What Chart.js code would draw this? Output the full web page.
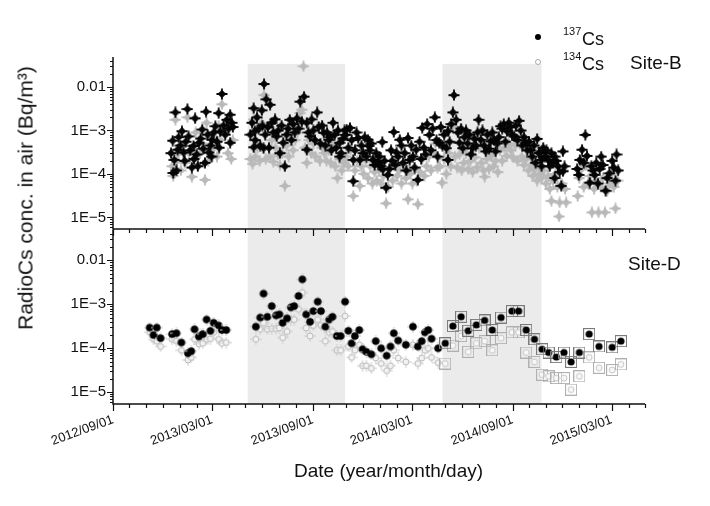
<!DOCTYPE html>
<html>
<head>
<meta charset="utf-8">
<script src="https://cdn.jsdelivr.net/npm/chart.js@4.4.0/dist/chart.umd.min.js"></script>
<style>
  body { margin: 0; background: #fff; }
  #wrap { position: relative; width: 710px; height: 506px; background: #fff; overflow: hidden; }
  canvas { position: absolute; left: 0; top: 0; }
  .lbl { position: absolute; font-family: "Liberation Sans", Arial, sans-serif; color: #111; white-space: nowrap; }
</style>
</head>
<body>
<div id="wrap">
  <canvas id="chartD" width="710" height="506"></canvas>
  <canvas id="chartB" width="710" height="240"></canvas>

  <div style="position:absolute;left:535px;top:34px;width:6px;height:6px;border-radius:50%;background:#000"></div>
  <span class="lbl" style="left:563px;top:26px;font-size:11px;line-height:11px">137</span>
  <span class="lbl" style="left:582px;top:30px;font-size:18px;line-height:18px">Cs</span>
  <div style="position:absolute;left:535px;top:59px;width:4px;height:4px;border-radius:50%;border:1px solid #aaa"></div>
  <span class="lbl" style="left:563px;top:51px;font-size:11px;line-height:11px">134</span>
  <span class="lbl" style="left:582px;top:55px;font-size:18px;line-height:18px">Cs</span>

  <span class="lbl" style="left:630px;top:53px;font-size:19px;line-height:19px">Site-B</span>
  <span class="lbl" style="left:628px;top:254px;font-size:19px;line-height:19px">Site-D</span>

  <span class="lbl" style="left:25px;top:198px;font-size:21px;line-height:21px;transform:translate(-50%,-50%) rotate(-90deg)">RadioCs conc. in air (Bq/m³)</span>
  <span class="lbl" style="left:294px;top:461px;font-size:19px;line-height:19px">Date (year/month/day)</span>
</div>

<script>
// ---- data ----
const xTickLabels = ['2012/09/01', '2013/03/01', '2013/09/01', '2014/03/01', '2014/09/01', '2015/03/01'];
const yTickValues = [1e-5, 1e-4, 1e-3, 1e-2];
const yTickLabels = ['1E\u22125', '1E\u22124', '1E\u22123', '0.01'];

// grey bands (sampling seasons)
const shadeFrom = ['2013-05-05', '2014-04-26'];
const shadeTo = ['2013-10-30', '2014-10-24'];

// Site-B, 137Cs
const siteB137 = [
  ['2012-12-16', 3.0e-4], ['2012-12-19', 5.8e-4], ['2012-12-20', 1.05e-4], ['2012-12-22', 2.1e-4],
  ['2012-12-24', 2.6e-3], ['2012-12-26', 1.2e-4], ['2012-12-28', 3.6e-4], ['2012-12-30', 7.0e-4],
  ['2013-01-02', 4.5e-4], ['2013-01-05', 9.6e-4], ['2013-01-08', 3.1e-4], ['2013-01-10', 2.0e-4],
  ['2013-01-12', 5.5e-4], ['2013-01-15', 3.1e-3], ['2013-01-17', 7.3e-4], ['2013-01-20', 3.5e-4],
  ['2013-01-23', 1.4e-4], ['2013-01-26', 4.4e-4], ['2013-01-27', 2.2e-4], ['2013-01-29', 1.9e-3],
  ['2013-02-01', 2.8e-4], ['2013-02-03', 1.5e-4], ['2013-02-05', 5.2e-4], ['2013-02-08', 6.5e-4],
  ['2013-02-11', 1.05e-3], ['2013-02-13', 3.8e-4], ['2013-02-16', 1.8e-4], ['2013-02-18', 2.7e-3],
  ['2013-02-21', 8.0e-4], ['2013-02-23', 3.1e-4], ['2013-02-26', 4.5e-4], ['2013-02-28', 2.5e-4],
  ['2013-03-01', 6.1e-4], ['2013-03-04', 9.0e-4], ['2013-03-07', 1.25e-3], ['2013-03-10', 5.5e-4],
  ['2013-03-13', 2.5e-3], ['2013-03-14', 4.0e-4], ['2013-03-16', 9.5e-4], ['2013-03-19', 6.9e-3],
  ['2013-03-22', 1.3e-3], ['2013-03-25', 8.0e-4], ['2013-03-28', 1.76e-3], ['2013-03-31', 1.1e-3],
  ['2013-04-03', 2.3e-3], ['2013-04-03', 5.2e-4], ['2013-04-06', 1.5e-3], ['2013-04-08', 1.2e-3],
  ['2013-05-10', 8.0e-4], ['2013-05-13', 1.5e-3], ['2013-05-16', 3.25e-3], ['2013-05-16', 4.1e-4],
  ['2013-05-18', 9.6e-4], ['2013-05-19', 6.0e-4], ['2013-05-22', 2.0e-3], ['2013-05-25', 1.1e-3],
  ['2013-05-28', 4.5e-4], ['2013-05-31', 2.9e-3], ['2013-06-01', 1.3e-3], ['2013-06-03', 3.9e-4],
  ['2013-06-04', 1.17e-2], ['2013-06-06', 8.0e-4], ['2013-06-08', 5.2e-3], ['2013-06-11', 1.2e-3],
  ['2013-06-13', 4.0e-4], ['2013-06-15', 3.9e-3], ['2013-06-18', 1.5e-3], ['2013-06-21', 9.0e-4],
  ['2013-06-24', 1.8e-3], ['2013-06-27', 7.3e-4], ['2013-06-30', 1.0e-3], ['2013-07-03', 3.0e-4],
  ['2013-07-06', 1.3e-3], ['2013-07-09', 5.2e-4], ['2013-07-12', 1.5e-4], ['2013-07-15', 8.0e-4],
  ['2013-07-18', 1.1e-3], ['2013-07-21', 1.76e-3], ['2013-07-24', 6.0e-4], ['2013-07-27', 1.4e-3],
  ['2013-07-30', 9.0e-4], ['2013-08-03', 1.9e-3], ['2013-08-06', 1.1e-3], ['2013-08-09', 4.6e-3],
  ['2013-08-12', 1.6e-3], ['2013-08-16', 6.0e-3], ['2013-08-21', 1.5e-3], ['2013-08-21', 3.6e-4],
  ['2013-08-24', 9.0e-4], ['2013-08-27', 7.3e-4], ['2013-08-30', 1.8e-3], ['2013-09-02', 1.0e-3],
  ['2013-09-05', 6.0e-4], ['2013-09-09', 2.6e-3], ['2013-09-12', 1.2e-3], ['2013-09-15', 5.0e-4],
  ['2013-09-18', 1.3e-3], ['2013-09-21', 8.8e-4], ['2013-09-24', 4.5e-4], ['2013-09-27', 9.0e-4],
  ['2013-09-30', 6.1e-4], ['2013-10-03', 7.0e-4], ['2013-10-05', 3.5e-4], ['2013-10-08', 1.5e-3],
  ['2013-10-11', 8.0e-4], ['2013-10-14', 4.0e-4], ['2013-10-17', 1.0e-3], ['2013-10-20', 5.2e-4],
  ['2013-10-20', 2.5e-4], ['2013-10-23', 3.0e-4], ['2013-10-26', 6.5e-4], ['2013-10-29', 1.0e-3],
  ['2013-10-31', 7.9e-4], ['2013-11-02', 1.05e-3], ['2013-11-05', 4.0e-4], ['2013-11-08', 1.15e-3],
  ['2013-11-11', 6.0e-4], ['2013-11-14', 2.1e-4], ['2013-11-14', 6.8e-5], ['2013-11-17', 3.5e-4],
  ['2013-11-20', 9.0e-4], ['2013-11-23', 6.7e-4], ['2013-11-26', 2.1e-4], ['2013-11-29', 4.5e-4],
  ['2013-12-02', 3.0e-4], ['2013-12-05', 7.0e-4], ['2013-12-08', 2.5e-4], ['2013-12-11', 6.1e-4],
  ['2013-12-12', 4.4e-4], ['2013-12-14', 3.5e-4], ['2013-12-17', 5.0e-4], ['2013-12-20', 2.1e-4],
  ['2013-12-23', 1.6e-4], ['2013-12-26', 3.0e-4], ['2013-12-29', 1.8e-4], ['2014-01-01', 2.5e-4],
  ['2014-01-03', 1.5e-4], ['2014-01-06', 5.4e-4], ['2014-01-07', 1.27e-4], ['2014-01-10', 2.0e-4],
  ['2014-01-13', 4.8e-5], ['2014-01-16', 9.5e-5], ['2014-01-19', 1.3e-4], ['2014-01-22', 3.5e-4],
  ['2014-01-24', 2.0e-4], ['2014-01-27', 9.2e-4], ['2014-01-30', 1.6e-4], ['2014-02-01', 3.1e-4],
  ['2014-02-04', 2.5e-4], ['2014-02-07', 6.1e-4], ['2014-02-10', 4.5e-4], ['2014-02-13', 1.8e-4],
  ['2014-02-16', 3.0e-4], ['2014-02-19', 1.2e-4], ['2014-02-22', 6.7e-4], ['2014-02-25', 2.1e-4],
  ['2014-02-28', 4.5e-4], ['2014-03-03', 2.5e-4], ['2014-03-06', 1.4e-4], ['2014-03-09', 3.6e-4],
  ['2014-03-12', 7.3e-5], ['2014-03-15', 5.5e-4], ['2014-03-18', 2.2e-4], ['2014-03-20', 1.15e-3],
  ['2014-03-23', 4.0e-4], ['2014-03-26', 2.8e-4], ['2014-03-29', 1.4e-3], ['2014-04-02', 7.9e-4],
  ['2014-04-05', 3.5e-4], ['2014-04-08', 1.1e-3], ['2014-04-12', 2.0e-3], ['2014-04-15', 6.0e-4],
  ['2014-04-17', 2.5e-4], ['2014-04-20', 5.2e-4], ['2014-04-23', 1.2e-3], ['2014-04-26', 4.5e-4],
  ['2014-04-29', 8.0e-4], ['2014-05-03', 3.9e-4], ['2014-05-06', 9.6e-4], ['2014-05-06', 2.1e-4],
  ['2014-05-09', 5.5e-4], ['2014-05-12', 1.4e-3], ['2014-05-15', 2.6e-3], ['2014-05-17', 6.5e-3],
  ['2014-05-21', 1.76e-3], ['2014-05-24', 9.0e-4], ['2014-05-27', 5.2e-4], ['2014-05-30', 1.1e-3],
  ['2014-06-02', 3.9e-4], ['2014-06-05', 7.0e-4], ['2014-06-08', 1.0e-3], ['2014-06-11', 5.0e-4],
  ['2014-06-14', 8.0e-4], ['2014-06-17', 2.8e-4], ['2014-06-20', 3.9e-4], ['2014-06-23', 6.5e-4],
  ['2014-06-26', 4.5e-4], ['2014-06-29', 9.0e-4], ['2014-07-01', 1.76e-3], ['2014-07-05', 6.1e-4],
  ['2014-07-08', 1.0e-3], ['2014-07-11', 4.5e-4], ['2014-07-14', 3.3e-4], ['2014-07-17', 8.0e-4],
  ['2014-07-20', 3.8e-4], ['2014-07-23', 5.6e-4], ['2014-07-26', 9.0e-4], ['2014-07-29', 6.0e-4],
  ['2014-08-01', 3.3e-4], ['2014-08-04', 5.0e-4], ['2014-08-07', 7.0e-4], ['2014-08-10', 1.25e-3],
  ['2014-08-13', 1.1e-3], ['2014-08-16', 1.4e-3], ['2014-08-19', 5.5e-4], ['2014-08-22', 9.6e-4],
  ['2014-08-25', 1.5e-3], ['2014-08-28', 1.2e-3], ['2014-08-31', 8.0e-4], ['2014-09-04', 7.3e-4],
  ['2014-09-07', 1.3e-3], ['2014-09-10', 6.0e-4], ['2014-09-13', 1.67e-3], ['2014-09-16', 1.0e-3],
  ['2014-09-19', 4.5e-4], ['2014-09-22', 7.0e-4], ['2014-09-25', 5.2e-4], ['2014-09-28', 3.5e-4],
  ['2014-10-01', 5.5e-4], ['2014-10-04', 3.5e-4], ['2014-10-07', 2.5e-4], ['2014-10-10', 4.5e-4],
  ['2014-10-13', 1.8e-4], ['2014-10-16', 6.4e-4], ['2014-10-19', 3.0e-4], ['2014-10-21', 3.1e-4],
  ['2014-10-24', 2.1e-4], ['2014-10-24', 1.5e-4], ['2014-10-27', 4.0e-4], ['2014-10-30', 2.5e-4],
  ['2014-11-02', 3.5e-4], ['2014-11-05', 2.1e-4], ['2014-11-08', 1.5e-4], ['2014-11-11', 3.0e-4],
  ['2014-11-14', 1.8e-4], ['2014-11-17', 2.5e-4], ['2014-11-17', 8.0e-5], ['2014-11-20', 2.0e-4],
  ['2014-11-23', 1.5e-4], ['2014-11-26', 1.1e-4], ['2014-11-29', 5.3e-5], ['2014-12-02', 3.3e-4],
  ['2014-12-02', 1.15e-4], ['2014-12-05', 1.5e-4], ['2014-12-28', 1.3e-4], ['2014-12-31', 9.5e-5],
  ['2015-01-02', 2.1e-4], ['2015-01-06', 3.6e-4], ['2015-01-09', 1.8e-4], ['2015-01-12', 7.9e-4],
  ['2015-01-15', 2.6e-4], ['2015-01-20', 6.3e-5], ['2015-01-23', 1.5e-4], ['2015-01-26', 1.2e-4],
  ['2015-01-29', 9.5e-5], ['2015-02-01', 1.8e-4], ['2015-02-04', 6.0e-5], ['2015-02-07', 1.3e-4],
  ['2015-02-10', 2.5e-4], ['2015-02-13', 1.6e-4], ['2015-02-18', 4.1e-5], ['2015-02-21', 8.0e-5],
  ['2015-02-25', 1.03e-4], ['2015-03-02', 2.0e-4], ['2015-03-05', 1.4e-4], ['2015-03-08', 7.0e-5],
  ['2015-03-10', 2.8e-4], ['2015-03-13', 1.2e-4]
];

// Site-B, 134Cs
const siteB134 = [
  ['2012-12-18', 1.5e-4], ['2012-12-20', 9.0e-5], ['2012-12-24', 1.76e-3], ['2012-12-27', 2.0e-4],
  ['2012-12-30', 3.0e-4], ['2013-01-03', 1.2e-4], ['2013-01-06', 4.5e-4], ['2013-01-10', 1.8e-4],
  ['2013-01-15', 2.0e-3], ['2013-01-18', 3.0e-4], ['2013-01-23', 8.6e-5], ['2013-01-26', 2.2e-4],
  ['2013-01-30', 9.0e-4], ['2013-02-03', 1.6e-4], ['2013-02-07', 3.0e-4], ['2013-02-11', 5.0e-4],
  ['2013-02-16', 7.3e-5], ['2013-02-19', 1.5e-3], ['2013-02-22', 2.0e-4], ['2013-02-26', 3.5e-4],
  ['2013-03-02', 4.0e-4], ['2013-03-06', 7.0e-4], ['2013-03-10', 2.5e-4], ['2013-03-13', 1.3e-3],
  ['2013-03-16', 6.0e-4], ['2013-03-19', 4.0e-3], ['2013-03-23', 9.0e-4], ['2013-03-27', 1.1e-3],
  ['2013-03-30', 3.0e-4], ['2013-04-02', 1.2e-3], ['2013-04-05', 2.2e-4], ['2013-04-08', 6.0e-4],
  ['2013-05-10', 2.2e-4], ['2013-05-14', 1.7e-4], ['2013-05-16', 1.8e-3], ['2013-05-19', 2.5e-4],
  ['2013-05-23', 4.0e-4], ['2013-05-27', 2.0e-4], ['2013-05-31', 1.5e-3], ['2013-06-04', 6.5e-3],
  ['2013-06-07', 2.2e-4], ['2013-06-10', 1.2e-3], ['2013-06-14', 2.5e-4], ['2013-06-18', 6.0e-4],
  ['2013-06-21', 1.9e-4], ['2013-06-25', 4.0e-4], ['2013-06-29', 2.8e-4], ['2013-07-03', 1.6e-4],
  ['2013-07-07', 3.0e-4], ['2013-07-12', 5.3e-5], ['2013-07-15', 4.5e-4], ['2013-07-19', 2.5e-4],
  ['2013-07-23', 8.0e-4], ['2013-07-27', 3.5e-4], ['2013-07-31', 6.0e-4], ['2013-08-04', 9.0e-4],
  ['2013-08-08', 2.5e-3], ['2013-08-12', 3.0e-3], ['2013-08-15', 3.0e-2], ['2013-08-18', 4.0e-4],
  ['2013-08-21', 1.8e-4], ['2013-08-25', 6.0e-4], ['2013-08-29', 3.0e-4], ['2013-09-02', 5.0e-4],
  ['2013-09-06', 2.5e-4], ['2013-09-10', 1.2e-3], ['2013-09-14', 2.0e-4], ['2013-09-18', 4.0e-4],
  ['2013-09-22', 3.0e-4], ['2013-09-26', 2.0e-4], ['2013-09-30', 3.5e-4], ['2013-10-04', 1.8e-4],
  ['2013-10-08', 5.0e-4], ['2013-10-12', 1.5e-4], ['2013-10-16', 8.0e-5], ['2013-10-20', 2.2e-4],
  ['2013-10-24', 1.2e-4], ['2013-10-28', 1.8e-4], ['2013-11-01', 2.5e-4], ['2013-11-05', 1.5e-4],
  ['2013-11-09', 3.5e-4], ['2013-11-14', 3.1e-5], ['2013-11-17', 1.2e-4], ['2013-11-21', 2.0e-4],
  ['2013-11-26', 5.3e-5], ['2013-11-29', 1.5e-4], ['2013-12-03', 1.0e-4], ['2013-12-07', 2.0e-4],
  ['2013-12-11', 8.0e-5], ['2013-12-15', 1.5e-4], ['2013-12-19', 6.0e-5], ['2013-12-23', 1.1e-4],
  ['2013-12-27', 7.0e-5], ['2013-12-31', 1.2e-4], ['2014-01-04', 6.0e-5], ['2014-01-08', 9.0e-5],
  ['2014-01-13', 2.1e-5], ['2014-01-17', 5.0e-5], ['2014-01-21', 1.4e-4], ['2014-01-25', 7.0e-5],
  ['2014-01-29', 1.8e-4], ['2014-02-02', 9.0e-5], ['2014-02-06', 1.2e-4], ['2014-02-10', 6.0e-5],
  ['2014-02-14', 1.5e-4], ['2014-02-18', 8.0e-5], ['2014-02-22', 2.6e-5], ['2014-02-26', 1.0e-4],
  ['2014-03-02', 6.0e-5], ['2014-03-06', 1.3e-4], ['2014-03-10', 7.0e-5], ['2014-03-12', 2.0e-5],
  ['2014-03-16', 1.1e-4], ['2014-03-20', 2.2e-4], ['2014-03-24', 9.0e-5], ['2014-03-28', 1.5e-4],
  ['2014-04-01', 2.5e-4], ['2014-04-05', 1.2e-4], ['2014-04-09', 3.0e-4], ['2014-04-13', 5.0e-4],
  ['2014-04-17', 1.4e-4], ['2014-04-21', 1.5e-4], ['2014-04-25', 6.3e-5], ['2014-04-29', 2.2e-4],
  ['2014-05-03', 1.0e-4], ['2014-05-07', 3.0e-4], ['2014-05-11', 1.5e-4], ['2014-05-15', 1.2e-3],
  ['2014-05-19', 2.5e-4], ['2014-05-23', 1.4e-4], ['2014-05-27', 2.8e-4], ['2014-05-31', 1.2e-4],
  ['2014-06-04', 1.8e-4], ['2014-06-08', 3.0e-4], ['2014-06-12', 1.3e-4], ['2014-06-16', 2.0e-4],
  ['2014-06-20', 1.1e-4], ['2014-06-24', 2.4e-4], ['2014-06-28', 1.4e-4], ['2014-07-02', 4.0e-4],
  ['2014-07-06', 1.8e-4], ['2014-07-10', 1.2e-4], ['2014-07-12', 8.6e-5], ['2014-07-16', 2.2e-4],
  ['2014-07-20', 1.3e-4], ['2014-07-24', 2.6e-4], ['2014-07-28', 1.5e-4], ['2014-08-01', 2.0e-4],
  ['2014-08-05', 1.1e-4], ['2014-08-09', 3.5e-4], ['2014-08-13', 2.0e-4], ['2014-08-17', 4.0e-4],
  ['2014-08-21', 2.6e-4], ['2014-08-25', 5.0e-4], ['2014-08-29', 3.5e-4], ['2014-09-02', 2.4e-4],
  ['2014-09-06', 4.5e-4], ['2014-09-10', 2.0e-4], ['2014-09-14', 5.0e-4], ['2014-09-18', 2.5e-4],
  ['2014-09-22', 1.6e-4], ['2014-09-26', 2.2e-4], ['2014-09-30', 1.2e-4], ['2014-10-04', 1.6e-4],
  ['2014-10-08', 9.0e-5], ['2014-10-12', 1.3e-4], ['2014-10-16', 7.0e-5], ['2014-10-20', 1.0e-4],
  ['2014-10-24', 8.0e-5], ['2014-10-28', 1.2e-4], ['2014-11-01', 6.0e-5], ['2014-11-05', 9.0e-5],
  ['2014-11-08', 4.5e-5], ['2014-11-11', 2.4e-5], ['2014-11-14', 7.0e-5], ['2014-11-18', 1.0e-4],
  ['2014-11-22', 5.0e-5], ['2014-11-25', 1.05e-5], ['2014-11-26', 2.2e-5], ['2014-11-30', 6.0e-5],
  ['2014-12-03', 1.2e-4], ['2014-12-06', 4.5e-5], ['2014-12-08', 2.2e-5], ['2014-12-29', 3.1e-5],
  ['2015-01-01', 8.0e-5], ['2015-01-05', 1.3e-4], ['2015-01-09', 5.0e-5], ['2015-01-13', 1.6e-4],
  ['2015-01-17', 6.0e-5], ['2015-01-21', 9.0e-5], ['2015-01-24', 1.3e-5], ['2015-01-28', 4.5e-5],
  ['2015-02-01', 7.0e-5], ['2015-02-05', 1.3e-5], ['2015-02-09', 5.0e-5], ['2015-02-13', 8.0e-5],
  ['2015-02-17', 1.3e-5], ['2015-02-21', 4.0e-5], ['2015-02-25', 6.0e-5], ['2015-03-01', 1.0e-4],
  ['2015-03-05', 5.0e-5], ['2015-03-08', 1.6e-5], ['2015-03-12', 7.0e-5]
];

// Site-D (weekly / biweekly samples)
const siteDDates = [
  '2012-11-07', '2012-11-14', '2012-11-20', '2012-11-27', '2012-12-18', '2012-12-26',
  '2013-01-04', '2013-01-16', '2013-01-22', '2013-01-28', '2013-02-05', '2013-02-12',
  '2013-02-19', '2013-02-26', '2013-03-04', '2013-03-13', '2013-03-19', '2013-03-27',
  '2013-05-20', '2013-05-28', '2013-06-03', '2013-06-10', '2013-06-18', '2013-06-26',
  '2013-07-02', '2013-07-08', '2013-07-16', '2013-07-23', '2013-07-29', '2013-08-06',
  '2013-08-13', '2013-08-20', '2013-08-27', '2013-09-02', '2013-09-10', '2013-09-16',
  '2013-09-24', '2013-10-01', '2013-10-07', '2013-10-15', '2013-10-22', '2013-10-30',
  '2013-11-05', '2013-11-11', '2013-11-17', '2013-11-25', '2013-12-01', '2013-12-08',
  '2013-12-17', '2013-12-25', '2014-01-04', '2014-01-14', '2014-01-21', '2014-01-27',
  '2014-02-04', '2014-02-18', '2014-03-03', '2014-03-12', '2014-03-19', '2014-03-25',
  '2014-03-31', '2014-04-06', '2014-04-18', '2014-05-01', '2014-05-15', '2014-05-30',
  '2014-06-12', '2014-06-27', '2014-07-12', '2014-07-26', '2014-08-11', '2014-08-31',
  '2014-09-12', '2014-09-26', '2014-10-11', '2014-10-25', '2014-11-06', '2014-11-20',
  '2014-12-04', '2014-12-17', '2015-01-01', '2015-01-19', '2015-02-06', '2015-03-02',
  '2015-03-18'
];
const siteD137 = [
  2.95e-4, 2.0e-4, 2.95e-4, 1.7e-4, 2.1e-4, 2.2e-4,
  1.35e-4, 7.7e-5, 8.6e-5, 2.7e-4, 1.85e-4, 2.1e-4,
  4.5e-4, 2.5e-4, 3.8e-4, 3.3e-4, 2.6e-4, 2.6e-4,
  3.1e-4, 5.0e-4, 1.75e-3, 5.2e-4, 9.1e-4, 5.6e-4,
  5.9e-4, 3.8e-4, 4.8e-4, 8.5e-4, 9.1e-4, 1.55e-3,
  3.7e-3, 5.9e-4, 4.0e-4, 7.0e-4, 1.15e-3, 7.0e-4,
  3.1e-4, 4.5e-4, 5.2e-4, 1.9e-4, 1.9e-4, 1.15e-3,
  2.5e-4, 1.3e-4, 1.9e-4, 2.6e-4, 9.5e-5, 8.3e-5,
  7.3e-5, 1.45e-4, 1.0e-4, 6.8e-5, 1.1e-4, 2.2e-4,
  1.5e-4, 1.2e-4, 3.1e-4, 1.1e-4, 1.45e-4, 2.3e-4,
  2.6e-4, 1.65e-4, 1.0e-4, 1.3e-4, 3.2e-4, 5.2e-4,
  2.5e-4, 3.4e-4, 4.3e-4, 2.6e-4, 5.0e-4, 7.0e-4,
  7.0e-4, 2.6e-4, 1.6e-4, 9.5e-5, 8.0e-5, 6.3e-5,
  8.0e-5, 4.9e-5, 8.0e-5, 2.1e-4, 1.1e-4, 1.05e-4,
  1.45e-4
];
const siteD134 = [
  2.3e-4, 1.6e-4, 1.45e-4, 1.1e-4, 1.6e-4, 1.45e-4,
  9.0e-5, 5.4e-5, 6.2e-5, 1.6e-4, 1.25e-4, 1.3e-4,
  1.6e-4, 1.65e-4, 2.3e-4, 1.6e-4, 1.3e-4, 1.35e-4,
  1.6e-4, 2.7e-4, 3.8e-4, 2.7e-4, 2.8e-4, 2.8e-4,
  2.9e-4, 1.75e-4, 2.4e-4, 4.5e-4, 4.5e-4, 7.7e-4,
  1.85e-3, 2.9e-4, 1.9e-4, 3.3e-4, 4.5e-4, 3.3e-4,
  1.45e-4, 2.3e-4, 2.4e-4, 9.0e-5, 9.0e-5, 5.4e-4,
  1.1e-4, 6.2e-5, 9.0e-5, 1.2e-4, 4.0e-5, 4.0e-5,
  3.5e-5, 6.0e-5, 4.5e-5, 3.1e-5, 4.0e-5, 9.0e-5,
  6.0e-5, 4.9e-5, 1.2e-4, 4.5e-5, 6.0e-5, 9.0e-5,
  1.0e-4, 6.2e-5, 4.7e-5, 4.5e-5, 1.15e-4, 1.9e-4,
  8.3e-5, 1.3e-4, 1.45e-4, 9.0e-5, 1.7e-4, 2.3e-4,
  2.3e-4, 8.0e-5, 4.9e-5, 2.5e-5, 2.3e-5, 2.1e-5,
  2.1e-5, 1.15e-5, 2.3e-5, 6.2e-5, 3.6e-5, 3.2e-5,
  4.3e-5
];

// ---- helpers ----
const ts = d => Date.parse(d);
const X_MIN = ts('2012-09-01'), X_MAX = ts('2015-05-01');
const Y_MIN = 5.4e-6, Y_MAX = 0.049;
const BOX_FROM = ts('2014-05-01');

const monthTicks = [];
for (let y = 2012, m = 8; Date.UTC(y, m, 1) <= X_MAX; m++) {
  if (m > 11) { m = 0; y++; }
  monthTicks.push(Date.UTC(y, m, 1));
}
const xLabelAt = {};
xTickLabels.forEach(l => { xLabelAt[ts(l.replace(/\//g, '-'))] = l; });

const logTicks = [];
for (let e = -6; e <= -1; e++) {
  for (let k = 1; k <= 9; k++) {
    const v = k * Math.pow(10, e);
    if (v >= Y_MIN && v <= Y_MAX) logTicks.push(v);
  }
}
const isDecade = v => Math.abs(Math.log10(v) - Math.round(Math.log10(v))) < 1e-6;
const yLabel = v => {
  const i = yTickValues.findIndex(t => Math.abs(Math.log10(t) - Math.log10(v)) < 1e-6);
  return i >= 0 ? yTickLabels[i] : '';
};

// marker images
function marker(size, draw) {
  const c = document.createElement('canvas');
  c.width = c.height = size;
  draw(c.getContext('2d'), size / 2);
  return c;
}
const crossDiamond = color => marker(12, (g, m) => {
  g.strokeStyle = color; g.fillStyle = color; g.lineWidth = 1.8;
  g.beginPath();
  g.moveTo(m, 0.5); g.lineTo(m, 2 * m - 0.5);
  g.moveTo(0.5, m); g.lineTo(2 * m - 0.5, m);
  g.stroke();
  g.beginPath();
  g.moveTo(m, m - 4.3); g.lineTo(m + 4.3, m); g.lineTo(m, m + 4.3); g.lineTo(m - 4.3, m);
  g.closePath(); g.fill();
});
const dotPlain = marker(12, (g, m) => {
  g.strokeStyle = '#c8c8c8'; g.lineWidth = 1;
  g.beginPath(); g.moveTo(m, 0); g.lineTo(m, 2 * m); g.moveTo(0, m); g.lineTo(2 * m, m); g.stroke();
  g.fillStyle = '#000'; g.beginPath(); g.arc(m, m, 3.8, 0, Math.PI * 2); g.fill();
});
const dotBox = marker(12, (g, m) => {
  g.strokeStyle = '#7a7a7a'; g.lineWidth = 1; g.strokeRect(0.5, 0.5, 11, 11);
  g.fillStyle = '#000'; g.beginPath(); g.arc(m, m, 3.6, 0, Math.PI * 2); g.fill();
});
const ringPlain = marker(12, (g, m) => {
  g.strokeStyle = '#cfcfcf'; g.lineWidth = 1;
  g.beginPath(); g.moveTo(m, 0); g.lineTo(m, 2 * m); g.moveTo(0, m); g.lineTo(2 * m, m); g.stroke();
  g.fillStyle = '#f2f2f2'; g.strokeStyle = '#b8b8b8';
  g.beginPath(); g.arc(m, m, 3, 0, Math.PI * 2); g.fill(); g.stroke();
});
const ringBox = marker(12, (g, m) => {
  g.strokeStyle = '#b0b0b0'; g.lineWidth = 1; g.strokeRect(0.5, 0.5, 11, 11);
  g.fillStyle = '#f7f7f7'; g.strokeStyle = '#c4c4c4';
  g.beginPath(); g.arc(m, m, 3, 0, Math.PI * 2); g.fill(); g.stroke();
});

// shaded seasons
const shadePlugin = {
  id: 'shade',
  beforeDatasetsDraw(chart, args, opts) {
    const { ctx, chartArea: a, scales: { x, y } } = chart;
    const top = opts.top ? y.getPixelForValue(opts.top) : a.top;
    ctx.save();
    ctx.fillStyle = '#ebebeb';
    shadeFrom.forEach((d, i) => {
      const x0 = x.getPixelForValue(ts(d)), x1 = x.getPixelForValue(ts(shadeTo[i]));
      ctx.fillRect(x0, top, x1 - x0, a.bottom - top);
    });
    ctx.restore();
  }
};

// axis lines with major / minor ticks
const axesPlugin = {
  id: 'axes',
  afterDraw(chart) {
    const { ctx, chartArea: a, scales: { x, y } } = chart;
    ctx.save();
    ctx.strokeStyle = '#111';
    ctx.lineWidth = 1.5;
    ctx.beginPath();
    ctx.moveTo(a.left, a.top); ctx.lineTo(a.left, a.bottom); ctx.lineTo(a.right, a.bottom);
    ctx.stroke();
    ctx.lineWidth = 1.2;
    ctx.beginPath();
    logTicks.forEach(v => {
      const py = Math.round(y.getPixelForValue(v)) + 0.5;
      const len = isDecade(v) ? 6 : 3;
      ctx.moveTo(a.left - len, py); ctx.lineTo(a.left, py);
    });
    monthTicks.forEach(v => {
      const px = Math.round(x.getPixelForValue(v)) + 0.5;
      const len = xLabelAt[v] ? 7 : 4;
      ctx.moveTo(px, a.bottom); ctx.lineTo(px, a.bottom + len);
    });
    ctx.stroke();
    ctx.restore();
  }
};

Chart.defaults.font.family = '"Liberation Sans", Arial, sans-serif';
Chart.defaults.color = '#111';

function makeChart(id, opts) {
  return new Chart(document.getElementById(id), {
    type: 'scatter',
    data: { datasets: opts.datasets },
    options: {
      responsive: false,
      animation: false,
      layout: { padding: { top: opts.top, right: 65, left: 0, bottom: 0 } },
      plugins: { legend: { display: false }, tooltip: { enabled: false }, shade: { top: opts.shadeTop } },
      scales: {
        x: {
          type: 'linear',
          min: X_MIN, max: X_MAX,
          afterBuildTicks: s => { s.ticks = monthTicks.map(v => ({ value: v })); },
          afterFit: s => { s.height = opts.xHeight; },
          grid: { display: false, drawTicks: true, tickLength: 7 },
          border: { display: false },
          ticks: {
            display: opts.xLabels,
            autoSkip: false,
            minRotation: 20, maxRotation: 20,
            padding: 1,
            font: { size: 13 },
            callback: v => xLabelAt[v] || ''
          }
        },
        y: {
          type: 'logarithmic',
          min: Y_MIN, max: Y_MAX,
          afterBuildTicks: s => { s.ticks = logTicks.map(v => ({ value: v })); },
          afterFit: s => { s.width = 113; },
          grid: { display: false, drawTicks: true, tickLength: 5 },
          border: { display: false },
          ticks: { autoSkip: false, padding: 2, font: { size: 15 }, callback: v => yLabel(v) }
        }
      }
    },
    plugins: [shadePlugin, axesPlugin]
  });
}

const toPts = rows => rows.map(([d, v]) => ({ x: ts(d), y: v }));

makeChart('chartB', {
  top: 57, xHeight: 10, xLabels: false, shadeTop: 0.034,
  datasets: [
    { label: '137Cs', data: toPts(siteB137), pointStyle: crossDiamond('#050505'), pointRadius: 5 },
    { label: '134Cs', data: toPts(siteB134), pointStyle: crossDiamond('#b9b9b9'), pointRadius: 5 }
  ]
});

makeChart('chartD', {
  top: 230, xHeight: 102, xLabels: true, shadeTop: null,
  datasets: [
    {
      label: '137Cs',
      data: siteDDates.map((d, i) => ({ x: ts(d), y: siteD137[i] })),
      pointStyle: c => (c.raw && c.raw.x >= BOX_FROM ? dotBox : dotPlain),
      pointRadius: 5
    },
    {
      label: '134Cs',
      data: siteDDates.map((d, i) => ({ x: ts(d), y: siteD134[i] })),
      pointStyle: c => (c.raw && c.raw.x >= BOX_FROM ? ringBox : ringPlain),
      pointRadius: 5
    }
  ]
});
</script>
</body>
</html>
